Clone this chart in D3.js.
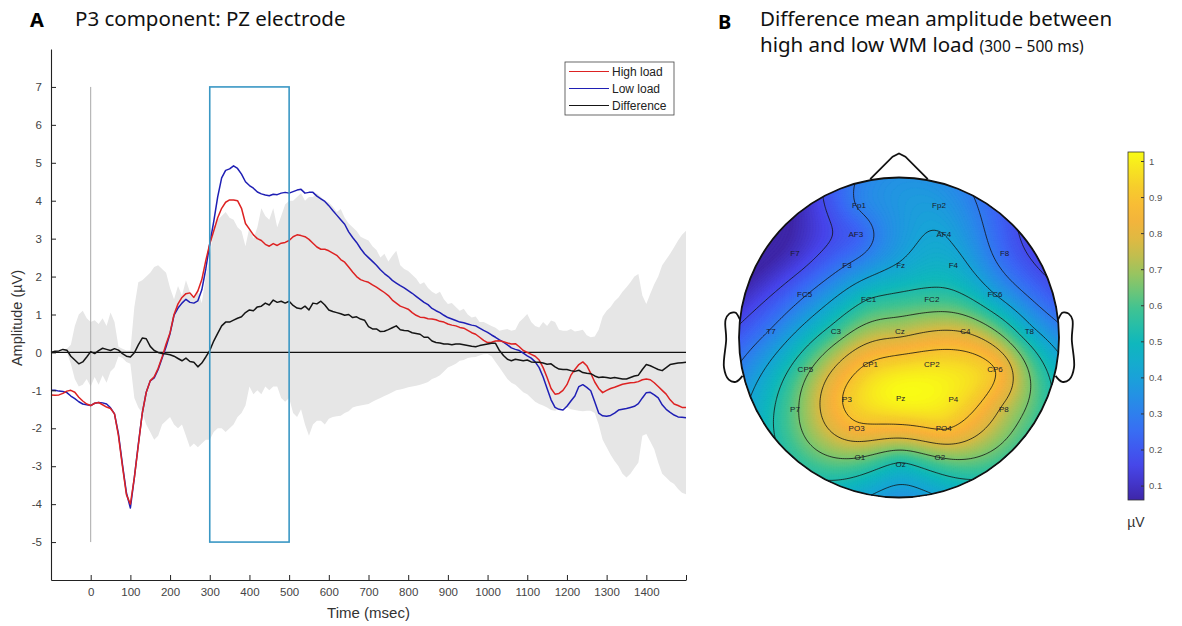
<!DOCTYPE html>
<html><head><meta charset="utf-8">
<script src="https://cdn.jsdelivr.net/npm/d3@7/dist/d3.min.js"></script>
<style>body{margin:0;background:#fff}svg{display:block}</style>
</head><body>
<svg id="c" width="1182" height="626"></svg>
<script>
// ---------- Panel A data (10 ms steps, -100 .. 1500 ms) ----------
const times = d3.range(-100, 1510, 10);
const highLoad = [
-1.12,-1.13,-1.12,-1.08,-1.02,-1.00,-1.05,-1.18,-1.28,-1.36,
-1.40,-1.34,-1.32,-1.38,-1.44,-1.48,-1.62,-2.20,-3.00,-3.75,
-4.00,-3.30,-2.45,-1.60,-1.05,-0.75,-0.64,-0.42,-0.12,0.22,
0.52,1.00,1.28,1.45,1.55,1.57,1.45,1.62,1.92,2.42,
2.86,3.20,3.55,3.80,3.96,4.02,4.02,4.00,3.80,3.40,
3.25,3.10,3.00,2.95,2.85,2.80,2.87,2.82,2.88,2.90,
2.95,3.05,3.10,3.08,3.05,2.98,2.88,2.78,2.72,2.72,
2.68,2.62,2.56,2.45,2.38,2.25,2.12,2.00,1.92,1.88,
1.85,1.78,1.72,1.65,1.58,1.50,1.38,1.30,1.22,1.18,
1.14,1.05,0.98,0.93,0.92,0.89,0.88,0.86,0.82,0.80,
0.75,0.72,0.70,0.66,0.64,0.58,0.52,0.48,0.40,0.32,
0.26,0.27,0.30,0.31,0.28,0.25,0.22,0.23,0.15,0.05,
0.00,-0.05,-0.10,-0.20,-0.40,-0.66,-0.95,-1.10,-1.08,-1.00,
-0.85,-0.60,-0.45,-0.32,-0.25,-0.35,-0.55,-0.78,-0.95,-1.06,
-1.00,-0.95,-0.92,-0.88,-0.84,-0.82,-0.80,-0.79,-0.77,-0.72,
-0.70,-0.72,-0.80,-0.90,-1.00,-1.10,-1.25,-1.36,-1.40,-1.45,
-1.45];
const lowLoad = [
-1.00,-1.00,-1.02,-1.03,-1.06,-1.15,-1.22,-1.30,-1.36,-1.38,
-1.40,-1.34,-1.32,-1.33,-1.36,-1.46,-1.62,-2.15,-2.95,-3.70,
-4.10,-3.30,-2.42,-1.60,-1.05,-0.75,-0.67,-0.45,-0.15,0.15,
0.50,0.98,1.17,1.30,1.40,1.32,1.30,1.36,1.65,2.20,
2.86,3.45,4.10,4.60,4.80,4.84,4.92,4.85,4.70,4.50,
4.40,4.33,4.23,4.18,4.15,4.13,4.17,4.16,4.20,4.22,
4.20,4.24,4.28,4.30,4.20,4.22,4.22,4.12,4.05,3.98,
3.87,3.74,3.62,3.50,3.38,3.18,3.03,2.90,2.74,2.60,
2.50,2.40,2.30,2.18,2.08,2.00,1.90,1.83,1.76,1.70,
1.63,1.56,1.48,1.40,1.32,1.26,1.16,1.10,1.05,0.98,
0.92,0.88,0.84,0.80,0.78,0.75,0.72,0.70,0.64,0.58,
0.53,0.46,0.40,0.33,0.27,0.20,0.12,0.08,0.05,-0.02,
-0.09,-0.15,-0.25,-0.40,-0.65,-0.95,-1.25,-1.45,-1.50,-1.52,
-1.42,-1.28,-1.15,-0.90,-0.85,-0.92,-1.01,-1.30,-1.60,-1.67,
-1.68,-1.66,-1.60,-1.52,-1.50,-1.48,-1.45,-1.42,-1.35,-1.20,
-1.06,-1.05,-1.12,-1.20,-1.38,-1.50,-1.58,-1.65,-1.70,-1.71,
-1.72];
const difference = [
0.00,0.03,0.04,0.08,0.06,-0.10,-0.20,-0.30,-0.25,-0.12,
0.02,-0.03,0.05,0.11,0.08,0.05,0.10,0.06,-0.03,-0.10,
-0.12,-0.01,0.20,0.38,0.36,0.16,0.05,0.00,-0.03,-0.04,
-0.06,-0.10,-0.16,-0.22,-0.15,-0.24,-0.26,-0.38,-0.28,-0.12,
0.05,0.30,0.50,0.70,0.80,0.80,0.85,0.90,0.94,1.05,
1.12,1.10,1.20,1.22,1.30,1.25,1.38,1.32,1.35,1.30,
1.35,1.24,1.17,1.15,1.22,1.12,1.30,1.28,1.35,1.25,
1.12,1.08,1.05,1.02,0.98,1.00,0.92,0.94,0.88,0.85,
0.68,0.62,0.62,0.55,0.56,0.60,0.65,0.70,0.60,0.58,
0.57,0.52,0.50,0.48,0.40,0.40,0.30,0.26,0.25,0.22,
0.22,0.20,0.22,0.22,0.20,0.18,0.16,0.15,0.18,0.20,
0.22,0.24,0.24,0.05,-0.08,-0.18,-0.22,-0.18,-0.20,-0.22,
-0.20,-0.25,-0.26,-0.26,-0.28,-0.31,-0.30,-0.38,-0.44,-0.45,
-0.45,-0.48,-0.50,-0.47,-0.53,-0.55,-0.56,-0.62,-0.66,-0.65,
-0.66,-0.68,-0.66,-0.68,-0.70,-0.70,-0.66,-0.62,-0.60,-0.45,
-0.32,-0.35,-0.40,-0.45,-0.48,-0.40,-0.32,-0.30,-0.28,-0.27,
-0.26];
const bandUpper = [
0.00,0.03,0.04,0.08,0.10,0.20,0.70,1.00,1.10,0.90,
0.80,0.85,0.75,0.90,0.70,1.05,0.80,0.15,0.10,0.05,
0.05,1.20,1.85,1.90,2.00,2.10,2.25,2.30,2.20,2.10,
1.70,1.40,1.75,1.50,1.90,1.60,1.40,1.60,1.30,2.00,
2.50,3.30,3.50,3.60,3.70,3.55,3.50,3.30,3.20,2.80,
3.30,3.00,3.30,3.80,3.60,3.50,3.80,3.30,3.60,3.90,
4.00,4.00,4.10,4.20,4.00,4.10,4.10,4.20,4.10,4.00,
3.95,3.85,3.70,3.78,3.55,3.40,3.30,3.20,3.05,3.00,
2.95,2.80,2.70,2.50,2.60,2.40,2.55,2.68,2.30,2.20,
2.15,2.05,1.95,1.80,1.85,1.70,1.60,1.54,1.60,1.40,
1.28,1.30,1.20,1.10,1.15,1.00,0.92,0.95,0.80,0.80,
0.75,0.70,0.65,0.57,0.60,0.62,0.57,0.60,0.80,0.90,
1.01,0.80,0.70,0.66,0.80,0.70,0.84,0.80,0.60,0.57,
0.57,0.62,0.55,0.57,0.60,0.45,0.40,0.42,0.60,0.95,
1.10,1.20,1.35,1.45,1.60,1.72,1.85,2.00,2.07,1.50,
1.28,1.55,1.80,2.00,2.30,2.45,2.60,2.77,2.95,3.10,
3.21];
const bandLower = [
0.00,0.03,0.04,0.08,0.00,-0.30,-0.70,-0.90,-0.85,-0.70,
-0.90,-0.65,-0.85,-0.60,-0.80,-0.50,-0.40,-0.10,-0.15,-0.25,
-0.30,-1.20,-1.45,-1.60,-1.90,-2.10,-2.30,-2.20,-1.90,-1.80,
-1.70,-1.90,-2.00,-1.90,-2.20,-2.50,-2.40,-2.50,-2.40,-2.30,
-2.30,-2.10,-2.00,-2.00,-2.10,-2.00,-1.90,-1.70,-1.60,-1.40,
-0.90,-1.10,-1.00,-1.10,-0.90,-1.00,-0.90,-0.90,-1.20,-1.30,
-1.20,-1.60,-1.70,-1.50,-1.90,-2.20,-1.90,-1.80,-1.80,-1.90,
-1.75,-1.70,-1.68,-1.67,-1.60,-1.55,-1.45,-1.42,-1.40,-1.38,
-1.36,-1.30,-1.25,-1.20,-1.15,-1.10,-1.05,-1.00,-0.98,-0.95,
-0.92,-0.90,-0.88,-0.85,-0.82,-0.78,-0.70,-0.66,-0.60,-0.50,
-0.40,-0.35,-0.30,-0.22,-0.20,-0.15,-0.13,-0.12,-0.08,-0.05,
-0.04,-0.10,-0.25,-0.40,-0.55,-0.70,-0.80,-0.85,-0.95,-1.05,
-1.10,-1.20,-1.30,-1.36,-1.40,-1.45,-1.52,-1.54,-1.50,-1.45,
-1.45,-1.50,-1.52,-1.54,-1.55,-1.54,-1.54,-1.60,-1.90,-2.30,
-2.50,-2.70,-2.86,-3.00,-3.20,-3.30,-3.20,-3.05,-2.90,-2.20,
-2.15,-2.35,-2.55,-2.90,-3.20,-3.30,-3.40,-3.47,-3.60,-3.70,
-3.74];
const xTicks = d3.range(0, 1501, 100);
const yTicks = d3.range(-5, 8, 1);
const windowStart = 300, windowEnd = 500, windowTop = 7, windowBottom = -5;
const legendLabels = ["High load", "Low load", "Difference"];

// ---------- Panel B data ----------
const elecNames = ["Fp1","Fp2","AF3","AF4","F7","F3","Fz","F4","F8","FC5","FC1","FC2","FC6",
  "T7","C3","Cz","C4","T8","CP5","CP1","CP2","CP6","P7","P3","Pz","P4","P8","PO3","PO4","O1","Oz","O2"];
// electrode positions in head units (head radius = 1, x right, y toward chin)
const elecX = [-0.25,0.25,-0.27,0.28,-0.65,-0.325,0.01,0.34,0.66,-0.59,-0.19,0.205,0.60,
  -0.80,-0.395,0.005,0.415,0.815,-0.585,-0.18,0.205,0.60,-0.65,-0.325,0.01,0.34,0.655,-0.265,0.28,-0.245,0.01,0.255];
const elecY = [-0.825,-0.825,-0.645,-0.645,-0.525,-0.455,-0.455,-0.455,-0.525,-0.27,-0.24,-0.24,-0.27,
  -0.04,-0.04,-0.04,-0.04,-0.04,0.20,0.165,0.165,0.20,0.445,0.385,0.38,0.385,0.445,0.565,0.565,0.75,0.79,0.75];
const elecVal = [0.30,0.38,0.22,0.41,0.10,0.29,0.42,0.45,0.24,0.28,0.53,0.58,0.41,
  0.30,0.58,0.73,0.76,0.45,0.62,0.90,0.96,0.89,0.63,0.91,1.02,0.98,0.75,0.86,0.90,0.65,0.52,0.65];
const contourLevels = [0.17,0.29,0.41,0.53,0.65,0.77,0.89];
const cbarTicks = [0.1,0.2,0.3,0.4,0.5,0.6,0.7,0.8,0.9,1];
const cbarRange = [0.06, 1.025];
const parula = ["#3e26a8","#4743e8","#3b67f5","#2a88ea","#17a5d6","#0fb8bc","#3cc394","#8dc665","#d6bb45","#f9b23a","#f6d02b","#f9fb15"];

const svg = d3.select("#c");
const FONT = "'Liberation Sans', Arial, sans-serif";
const TFONT = "'Noto Sans', 'Open Sans', sans-serif";

// ================= Panel A =================
const x = d3.scaleLinear([-100, 1500], [51, 686]);
const y = d3.scaleLinear([-6, 8], [580, 49]);
const gA = svg.append("g");

gA.append("path")
  .datum(times.map((t, i) => [t, bandLower[i], bandUpper[i]]))
  .attr("fill", "#e6e6e6")
  .attr("d", d3.area().x(d => x(d[0])).y0(d => y(d[1])).y1(d => y(d[2])));

gA.append("line").attr("x1", x(0)).attr("x2", x(0)).attr("y1", y(7)).attr("y2", y(-5))
  .attr("stroke", "#a8a8a8").attr("stroke-width", 1);
gA.append("line").attr("x1", x(-100)).attr("x2", x(1500)).attr("y1", y(0)).attr("y2", y(0))
  .attr("stroke", "#111").attr("stroke-width", 1.2);

const line = d3.line().x((d, i) => x(times[i])).y(d => y(d));
const series = [
  {v: lowLoad, c: "#1f1fb4"},
  {v: highLoad, c: "#dd2222"},
  {v: difference, c: "#151515"}
];
series.forEach(s => gA.append("path").datum(s.v).attr("fill", "none")
  .attr("stroke", s.c).attr("stroke-width", 1.5).attr("stroke-linejoin", "round").attr("d", line));

gA.append("rect").attr("x", x(windowStart)).attr("y", y(windowTop))
  .attr("width", x(windowEnd) - x(windowStart)).attr("height", y(windowBottom) - y(windowTop))
  .attr("fill", "none").attr("stroke", "#3a97c4").attr("stroke-width", 1.6);

const ax = gA.append("g").attr("transform", `translate(0,${y(-6)})`)
  .call(d3.axisBottom(x).tickValues(xTicks).tickSizeInner(-5).tickSizeOuter(0).tickPadding(8)
    .tickFormat(d => d === 1500 ? "" : String(d)));
const ay = gA.append("g").attr("transform", `translate(${x(-100)},0)`)
  .call(d3.axisLeft(y).tickValues(yTicks).tickSizeInner(-5).tickSizeOuter(0).tickPadding(9)
    .tickFormat(d => String(d)));
[ax, ay].forEach(a => {
  a.select(".domain").attr("stroke", "#222").attr("stroke-width", 1.1);
  a.selectAll(".tick line").attr("stroke", "#222");
  a.selectAll("text").attr("fill", "#444").style("font-family", FONT).style("font-size", "11.5px");
});
gA.append("text").attr("x", (x(-100) + x(1500)) / 2).attr("y", 618).attr("text-anchor", "middle")
  .style("font-family", FONT).style("font-size", "15px").attr("fill", "#333").text("Time (msec)");
gA.append("text").attr("transform", `translate(22,318) rotate(-90)`).attr("text-anchor", "middle")
  .style("font-family", FONT).style("font-size", "14.5px").attr("fill", "#333").text("Amplitude (µV)");

// legend
const lg = gA.append("g").attr("transform", "translate(565,62)");
lg.append("rect").attr("width", 109).attr("height", 53).attr("fill", "#fff").attr("stroke", "#444").attr("stroke-width", 0.8);
["#dd2222", "#1f1fb4", "#151515"].forEach((c, i) => {
  lg.append("line").attr("x1", 4).attr("x2", 44).attr("y1", 9.5 + i * 17).attr("y2", 9.5 + i * 17)
    .attr("stroke", c).attr("stroke-width", 1);
  lg.append("text").attr("x", 47).attr("y", 9.5 + i * 17).attr("dy", "0.35em")
    .style("font-family", FONT).style("font-size", "12px").attr("fill", "#222").text(legendLabels[i]);
});

// titles
svg.append("text").attr("x", 30).attr("y", 27).style("font-family", TFONT).style("font-weight", "bold")
  .style("font-size", "20px").text("A");
svg.append("text").attr("x", 75).attr("y", 26).style("font-family", TFONT)
  .style("font-size", "20.5px").attr("fill", "#111").text("P3 component: PZ electrode");
svg.append("text").attr("x", 718).attr("y", 29).style("font-family", TFONT).style("font-weight", "bold")
  .style("font-size", "20px").text("B");
svg.append("text").attr("x", 760).attr("y", 26).style("font-family", TFONT)
  .style("font-size", "20.5px").attr("fill", "#111").text("Difference mean amplitude between");
const t2 = svg.append("text").attr("x", 760).attr("y", 52).style("font-family", TFONT)
  .style("font-size", "20.5px").attr("fill", "#111");
t2.append("tspan").text("high and low WM load ");
t2.append("tspan").style("font-size", "15.5px").text("(300 – 500 ms)");

// ================= Panel B (topomap) =================
const cx = 899, cy = 337.5, R = 160;
const color = d3.scaleLinear()
  .domain(parula.map((_, i) => cbarRange[0] + i * (cbarRange[1] - cbarRange[0]) / (parula.length - 1)))
  .range(parula).clamp(true);

// biharmonic spline interpolation (as in MATLAB griddata 'v4')
const g = d => d > 1e-12 ? d * d * (Math.log(d) - 1) : 0;
const N = elecNames.length;
const M = [];
for (let i = 0; i < N; i++) {
  M.push([]);
  for (let j = 0; j < N; j++) M[i].push(g(Math.hypot(elecX[i] - elecX[j], elecY[i] - elecY[j])));
  M[i].push(elecVal[i]);
}
for (let c = 0; c < N; c++) {
  let p = c;
  for (let r = c + 1; r < N; r++) if (Math.abs(M[r][c]) > Math.abs(M[p][c])) p = r;
  [M[c], M[p]] = [M[p], M[c]];
  for (let r = 0; r < N; r++) {
    if (r === c) continue;
    const f = M[r][c] / M[c][c];
    for (let k = c; k <= N; k++) M[r][k] -= f * M[c][k];
  }
}
const w = M.map((row, i) => row[N] / row[i]);
const n = 150;
const grid = new Float64Array(n * n);
for (let j = 0; j < n; j++) for (let i = 0; i < n; i++) {
  const px = -1 + 2 * (i + 0.5) / n, py = -1 + 2 * (j + 0.5) / n;
  let s = 0;
  for (let k = 0; k < N; k++) s += w[k] * g(Math.hypot(px - elecX[k], py - elecY[k]));
  grid[j * n + i] = s;
}
const gmin = d3.min(grid);
const proj = d3.geoPath(d3.geoIdentity().scale(2 * R / n).translate([cx - R, cy - R]));

const defs = svg.append("defs");
defs.append("clipPath").attr("id", "head").append("circle").attr("cx", cx).attr("cy", cy).attr("r", R);
const gB = svg.append("g");
const fillG = gB.append("g").attr("clip-path", "url(#head)");
fillG.append("circle").attr("cx", cx).attr("cy", cy).attr("r", R).attr("fill", color(gmin));
const fillLevels = d3.range(0.0, 1.1, 0.008);
const cont = d3.contours().size([n, n]);
fillG.selectAll("path.f").data(cont.thresholds(fillLevels)(grid)).join("path")
  .attr("d", proj).attr("fill", d => color(d.value + 0.004)).attr("stroke", d => color(d.value + 0.004)).attr("stroke-width", 0.3);
fillG.selectAll("path.l").data(cont.thresholds(contourLevels)(grid)).join("path")
  .attr("d", proj).attr("fill", "none").attr("stroke", "#111").attr("stroke-width", 0.8);

// head outline, nose, ears (head units)
const hx = d3.scaleLinear([-1, 1], [cx - R, cx + R]);
const hy = d3.scaleLinear([-1, 1], [cy - R, cy + R]);
gB.append("circle").attr("cx", cx).attr("cy", cy).attr("r", R).attr("fill", "none").attr("stroke", "#111").attr("stroke-width", 1.8);
const noseX = [0.18, 0.04, 0, -0.04, -0.18], noseY = [-0.99, -1.13, -1.15, -1.13, -0.99];
const earX = [0.994, 1.02, 1.036, 1.06, 1.084, 1.08, 1.094, 1.064, 1.02, 0.978];
const earY = [-0.111, -0.155, -0.157, -0.149, -0.111, 0.011, 0.186, 0.263, 0.277, 0.240];
const pl = d3.line().curve(d3.curveCatmullRom);
gB.append("path").attr("d", d3.line()(noseX.map((v, i) => [hx(v), hy(noseY[i])])))
  .attr("fill", "none").attr("stroke", "#111").attr("stroke-width", 1.8);
[1, -1].forEach(sgn => gB.append("path").attr("d", pl(earX.map((v, i) => [hx(sgn * v), hy(earY[i])])))
  .attr("fill", "none").attr("stroke", "#111").attr("stroke-width", 1.8));

gB.selectAll("text.el").data(elecNames).join("text")
  .attr("x", (d, i) => hx(elecX[i])).attr("y", (d, i) => hy(elecY[i])).attr("dy", "0.35em")
  .attr("text-anchor", "middle").style("font-family", FONT).style("font-size", "8px").attr("fill", "#1a1a2a").text(d => d);

// colorbar
const cbY = d3.scaleLinear(cbarRange, [500, 152]);
const grad = defs.append("linearGradient").attr("id", "cb").attr("x1", 0).attr("x2", 0).attr("y1", 1).attr("y2", 0);
d3.range(0, 1.0001, 0.05).forEach(u => grad.append("stop").attr("offset", u)
  .attr("stop-color", color(cbarRange[0] + u * (cbarRange[1] - cbarRange[0]))));
svg.append("rect").attr("x", 1128).attr("y", cbY(cbarRange[1])).attr("width", 16)
  .attr("height", cbY(cbarRange[0]) - cbY(cbarRange[1])).attr("fill", "url(#cb)").attr("stroke", "#333").attr("stroke-width", 0.8);
const ac = svg.append("g").attr("transform", "translate(1144,0)")
  .call(d3.axisRight(cbY).tickValues(cbarTicks).tickSizeInner(-3).tickSizeOuter(0).tickPadding(5).tickFormat(d => String(d)));
ac.select(".domain").remove();
ac.selectAll(".tick line").attr("stroke", "#333");
ac.selectAll("text").attr("fill", "#555").style("font-family", FONT).style("font-size", "9.5px");
svg.append("text").attr("x", 1136).attr("y", 527).attr("text-anchor", "middle").style("font-family", FONT)
  .style("font-size", "14px").attr("fill", "#333").text("µV");
</script>
</body></html>
